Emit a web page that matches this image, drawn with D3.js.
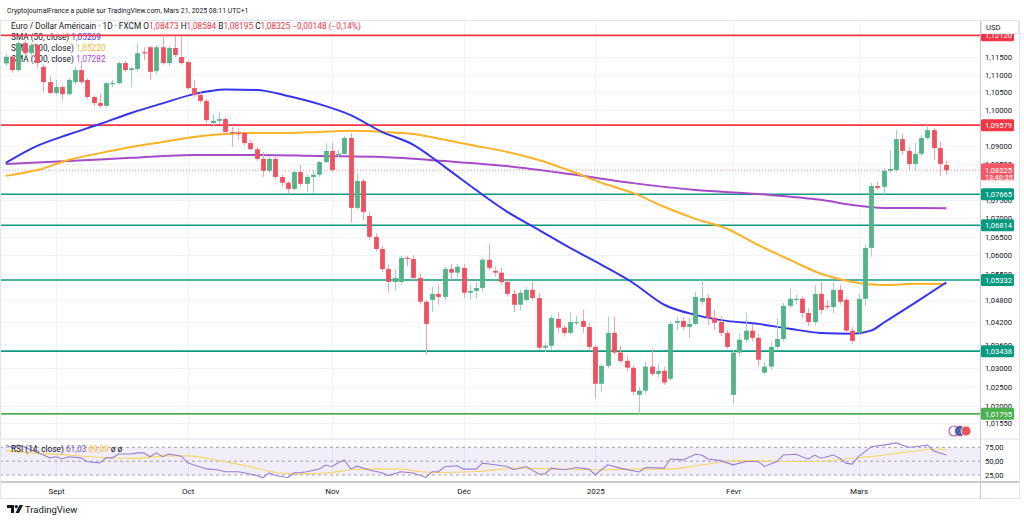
<!DOCTYPE html>
<html><head><meta charset="utf-8">
<script src="https://cdn.jsdelivr.net/npm/d3@7"></script>
<style>
body{margin:0;background:#fff;}
svg{display:block;font-family:Roboto,"DejaVu Sans",sans-serif;}
</style>
</head><body>
<svg id="c" width="1024" height="520"></svg>
<script>
// ---------- DATA ----------
const firstDay = "2024-08-21", lastDay = "2025-03-21";
const closedDays = ["2024-12-25", "2025-01-01"];

const opens = [1.1132,1.1151,1.1113,1.1190,1.1161,1.1184,1.1122,1.1079,1.1048,1.1065,1.1045,1.1079,1.1113,1.1085,1.1037,1.1020,1.1012,1.1073,1.1076,1.1133,1.1113,1.1116,1.1164,1.1178,1.1110,1.1178,1.1133,1.1176,1.1150,
1.1136,1.1062,1.1043,1.1026,1.0964,1.0970,1.0975,1.0939,1.0938,1.0936,1.0908,1.0891,1.0864,1.0831,1.0864,1.0814,1.0798,1.0781,1.0828,1.0795,1.0814,1.0820,1.0855,
1.0886,1.0875,1.0878,1.0922,1.0729,1.0803,1.0707,1.0650,1.0617,1.0563,1.0528,1.0528,1.0593,1.0590,1.0539,1.0475,1.0480,1.0496,1.0488,1.0563,1.0553,
1.0566,1.0499,1.0504,1.0512,1.0588,1.0558,1.0553,1.0528,1.0496,1.0467,1.0480,1.0507,1.0485,1.0353,1.0358,1.0429,1.0406,1.0392,1.0419,1.0424,1.0408,
1.0355,1.0258,1.0305,1.0392,1.0340,1.0318,1.0300,1.0229,1.0240,1.0303,1.0284,1.0292,1.0271,1.0419,1.0424,1.0408,1.0416,1.0475,1.0485,1.0432,1.0421,1.0392,
1.0229,1.0340,1.0374,1.0398,1.0379,1.0287,1.0303,1.0355,1.0376,1.0464,1.0480,1.0483,1.0445,1.0421,1.0496,1.0464,1.0461,1.0507,1.0480,1.0398,
1.0392,1.0483,1.0620,1.0789,1.0787,1.0831,1.0833,1.0919,1.0886,1.0850,1.0878,1.0922,1.0944,1.0894,1.08473];
const highs = [1.1159,1.1156,1.1196,1.1198,1.1190,1.1187,1.1130,1.1096,1.1085,1.1070,1.1090,1.1122,1.1139,1.1090,1.1042,1.1048,1.1079,1.1085,1.1138,1.1140,1.1122,1.1190,1.1178,1.1182,1.1184,1.1213,1.1182,1.1210,1.1210,
1.1140,1.1085,1.1050,1.1031,1.0989,1.0994,1.0980,1.0953,1.0950,1.0940,1.0917,1.0897,1.0883,1.0869,1.0870,1.0820,1.0803,1.0833,1.0847,1.0820,1.0833,1.0858,1.0908,
1.0908,1.0889,1.0928,1.0936,1.0825,1.0808,1.0718,1.0660,1.0625,1.0575,1.0561,1.0598,1.0598,1.0600,1.0550,1.0480,1.0515,1.0521,1.0569,1.0577,1.0577,
1.0577,1.0521,1.0528,1.0593,1.0631,1.0569,1.0566,1.0534,1.0507,1.0507,1.0515,1.0531,1.0499,1.0366,1.0440,1.0448,1.0413,1.0448,1.0437,1.0453,1.0419,
1.0360,1.0310,1.0435,1.0435,1.0358,1.0332,1.0305,1.0250,1.0316,1.0350,1.0310,1.0303,1.0421,1.0435,1.0435,1.0432,1.0502,1.0534,1.0495,1.0453,1.0437,1.0400,
1.0345,1.0392,1.0445,1.0416,1.0390,1.0316,1.0369,1.0432,1.0472,1.0510,1.0494,1.0488,1.0459,1.0520,1.0528,1.0480,1.0528,1.0520,1.0488,1.0408,
1.0496,1.0630,1.0798,1.0800,1.0839,1.0889,1.0944,1.0933,1.0897,1.0908,1.0930,1.0958,1.0950,1.0911,1.08584];
const lows = [1.1125,1.1105,1.1108,1.1153,1.1150,1.1119,1.1051,1.1045,1.1042,1.1028,1.1042,1.1073,1.1073,1.1031,1.1012,1.1006,1.1009,1.1065,1.1072,1.1108,1.1065,1.1110,1.1142,1.1085,1.1100,1.1128,1.1125,1.1150,1.1128,
1.1057,1.1037,1.1020,1.0964,1.0953,1.0961,1.0933,1.0897,1.0917,1.0902,1.0889,1.0858,1.0814,1.0825,1.0808,1.0789,1.0767,1.0776,1.0789,1.0773,1.0770,1.0814,1.0853,
1.0828,1.0869,1.0872,1.0688,1.0724,1.0696,1.0642,1.0612,1.0555,1.0499,1.0507,1.0520,1.0570,1.0534,1.0467,1.0334,1.0448,1.0467,1.0480,1.0534,1.0539,
1.0485,1.0480,1.0485,1.0501,1.0560,1.0542,1.0520,1.0488,1.0448,1.0453,1.0475,1.0480,1.0347,1.0342,1.0347,1.0392,1.0382,1.0387,1.0413,1.0392,1.0347,
1.0219,1.0237,1.0300,1.0334,1.0313,1.0290,1.0229,1.0178,1.0232,1.0278,1.0276,1.0255,1.0266,1.0400,1.0400,1.0379,1.0413,1.0467,1.0413,1.0400,1.0384,1.0350,
1.0206,1.0329,1.0366,1.0369,1.0303,1.0282,1.0295,1.0347,1.0369,1.0459,1.0469,1.0432,1.0410,1.0413,1.0443,1.0453,1.0445,1.0467,1.0392,1.0363,
1.0387,1.0464,1.0596,1.0778,1.0765,1.0825,1.0828,1.0875,1.0833,1.0833,1.0872,1.0917,1.0861,1.0817,1.08195];
const closes = [1.1151,1.1113,1.1190,1.1161,1.1184,1.1133,1.1079,1.1048,1.1065,1.1045,1.1085,1.1113,1.1079,1.1037,1.1020,1.1012,1.1076,1.1077,1.1133,1.1113,1.1118,1.1161,1.1161,1.1108,1.1178,1.1133,1.1176,1.1156,1.1133,
1.1062,1.1043,1.1026,1.0972,1.0970,1.0975,1.0939,1.0936,1.0934,1.0908,1.0891,1.0864,1.0831,1.0864,1.0814,1.0798,1.0781,1.0828,1.0795,1.0814,1.0820,1.0855,1.0886,
1.0833,1.0878,1.0922,1.0729,1.0803,1.0718,1.0650,1.0617,1.0563,1.0528,1.0539,1.0593,1.0590,1.0539,1.0475,1.0416,1.0496,1.0488,1.0563,1.0553,1.0569,
1.0499,1.0504,1.0512,1.0588,1.0566,1.0553,1.0528,1.0496,1.0467,1.0499,1.0507,1.0485,1.0353,1.0358,1.0432,1.0406,1.0392,1.0421,1.0421,1.0408,1.0355,
1.0258,1.0305,1.0392,1.0340,1.0318,1.0300,1.0237,1.0240,1.0303,1.0284,1.0292,1.0261,1.0416,1.0424,1.0408,1.0416,1.0488,1.0485,1.0432,1.0419,1.0392,1.0355,
1.0340,1.0374,1.0398,1.0379,1.0321,1.0303,1.0355,1.0376,1.0464,1.0483,1.0483,1.0445,1.0421,1.0496,1.0453,1.0461,1.0507,1.0475,1.0398,1.0371,
1.0483,1.0620,1.0789,1.0784,1.0831,1.0836,1.0919,1.0886,1.0850,1.0878,1.0922,1.0944,1.0894,1.0850,1.08325];

// moving averages: [bar index, value]
const sma50 = [[0,1.0853],[5,1.0900],[10,1.0932],[15,1.0961],[20,1.0992],[25,1.1019],[30,1.1045],[35,1.1058],[40,1.1057],[45,1.1040],[50,1.1017],[55,1.0986],[60,1.0939],[65,1.0903],[70,1.0842],[75,1.0778],[80,1.0718],[85,1.0669],[90,1.0620],[95,1.0574],[100,1.0526],[105,1.0467],[110,1.0440],[115,1.0424],[120,1.0416],[125,1.0403],[130,1.0392],[135,1.0390],[138,1.0398],[140,1.0419],[145,1.0472],[150,1.05269]];
const sma100 = [[0,1.0817],[5,1.0833],[10,1.0861],[15,1.0880],[20,1.0897],[25,1.0911],[30,1.0925],[35,1.0933],[40,1.0936],[45,1.0936],[50,1.0939],[55,1.0942],[60,1.0939],[65,1.0933],[70,1.0917],[75,1.0900],[80,1.0883],[85,1.0861],[90,1.0831],[95,1.0798],[100,1.0770],[105,1.0732],[110,1.0699],[115,1.0672],[120,1.0628],[125,1.0588],[130,1.0550],[135,1.0528],[140,1.0520],[145,1.0523],[150,1.05220]];
const sma200 = [[0,1.0850],[10,1.0858],[20,1.0867],[30,1.0875],[40,1.0875],[50,1.0872],[60,1.0869],[70,1.0858],[80,1.0844],[90,1.0822],[100,1.0797],[110,1.0778],[120,1.0767],[130,1.0751],[135,1.0737],[140,1.0729],[145,1.0729],[150,1.07282]];

const rsi = [[0,79],[1,75],[2,79],[3,75.5],[4,70],[6,61],[7,56],[8,58],[9,54],[10,58],[12,56],[13,49],[15,47],[16,56],[17,56],[18,63],[20,63],[21,65],[22,65],[23,58],[24,65],[25,58],[26,63],[28,59],[29,47],[30,43],[32,36],[34,34],[35,31],[37,31],[38,29],[40,24],[41,20],[42,29],[43,24],[45,20],[46,29],[47,29],[48,31],[50,36],[51,43],[52,40],[53,47],[54,52],[55,36],[56,41],[58,34],[60,29],[61,24],[63,31],[65,28.6],[67,20.7],[68,31],[69,31],[70,40],[72,41.6],[73,35.7],[75,35.7],[76,46.4],[78,43.4],[80,40.4],[81,34.5],[83,40.4],[85,26.8],[86,26.8],[87,37.5],[89,34.5],[91,38.6],[93,35.7],[94,25.5],[96,43.4],[98,37.5],[101,30.4],[102,38.6],[105,37.5],[106,54],[108,52.3],[110,62.5],[111,61.2],[112,54],[114,51],[116,43.4],[118,49.3],[120,49.3],[121,40.4],[123,49.3],[124,61],[126,62.5],[128,53.6],[129,61],[130,55.4],[132,61],[133,55.4],[134,46.4],[135,44.6],[136,58.2],[138,76],[140,79],[142,83],[144,75],[145,76],[147,79],[148,68.4],[150,61.03]];
const rsiMa = [[0,69],[4,65],[10,61],[15,57],[20,55],[26,59.5],[29,59.5],[34,51],[39,40],[43,29.6],[47,27],[52,29.6],[55,34.5],[58,36],[63,35.7],[66,31.4],[69,29.6],[75,31.4],[82,37.5],[88,35.7],[94,34.5],[101,35.7],[106,35.7],[111,43.4],[115,49.3],[118,51],[124,49.3],[129,49.3],[135,55.4],[139,59.5],[144,67],[149,72],[150,69.69]];

const levelValues = [1.1212, 1.09579, 1.07665, 1.06814, 1.05332, 1.03438, 1.01795];
const levelKinds  = ["res","res","sup","sup","sup","sup","low"];
const priceTicks = [1.115,1.11,1.105,1.10,1.09,1.085,1.075,1.07,1.065,1.06,1.055,1.048,1.042,1.036,1.03,1.025,1.02,1.0155];
const rsiTicks = [75,50,25];
const monthStarts = ["2024-09-02","2024-10-01","2024-11-01","2024-12-02","2025-01-02","2025-02-03","2025-03-03"];
const monthLabels = ["Sept","Oct","Nov","Déc","2025","Févr","Mars"];
const lastPrice = 1.08325, countdown = "13:48:35";

// ---------- BUILD ----------
const dates = [];
for (let d = new Date(firstDay+"T00:00:00Z"); d <= new Date(lastDay+"T00:00:00Z"); d.setUTCDate(d.getUTCDate()+1)) {
  const wd = d.getUTCDay(), s = d.toISOString().slice(0,10);
  if (wd !== 0 && wd !== 6 && !closedDays.includes(s)) dates.push(s);
}
const bars = dates.map((d,i)=>({d, i, o:opens[i], h:highs[i], l:lows[i], c:closes[i]}));

const svg = d3.select("#c");
const axisX = 980, mainTop = 20, mainBot = 438, rsiTop = 440, rsiBot = 481;
const UP = "#53b488", DOWN = "#ef5160", UPW = "#9fd3c3", DOWNW = "#f5a2aa";
const fmt = v => v.toFixed(5).replace(".", ",");

const x = d3.scaleLinear().domain([0, dates.length-1]).range([5.8, 946.3]);
const y = d3.scaleLog().domain([1.0117, 1.1256]).range([mainBot, mainTop]);
const yr = d3.scaleLinear().domain([14.2, 88.2]).range([rsiBot, rsiTop]);

svg.append("rect").attr("width",1024).attr("height",520).attr("fill","#fff");

svg.append("defs").append("clipPath").attr("id","mainClip").append("rect")
  .attr("x",0).attr("y",mainTop).attr("width",axisX).attr("height",mainBot-mainTop);
svg.select("defs").append("clipPath").attr("id","rsiClip").append("rect")
  .attr("x",0).attr("y",rsiTop).attr("width",axisX).attr("height",rsiBot-rsiTop);

// header
svg.append("text").attr("x",7).attr("y",12.5).attr("font-size",6.9).attr("fill","#131722")
  .text("CryptojournalFrance a publié sur TradingView.com, Mars 21, 2025 08:11 UTC+1");

// grid
const grid = svg.append("g");
grid.selectAll("line.h").data(priceTicks).join("line")
  .attr("x1",0).attr("x2",axisX).attr("y1",d=>Math.round(y(d))+0.5).attr("y2",d=>Math.round(y(d))+0.5)
  .attr("stroke","#f0f3fa");
const monthIdx = monthStarts.map(m=>dates.indexOf(m));
grid.selectAll("line.v").data(monthIdx).join("line")
  .attr("x1",d=>Math.round(x(d))+0.5).attr("x2",d=>Math.round(x(d))+0.5)
  .attr("y1",mainTop).attr("y2",rsiBot).attr("stroke","#f0f3fa");

// legends (drawn beneath candles)
const leg = svg.append("g").attr("font-size",8.3);
const t1 = leg.append("text").attr("x",11).attr("y",29);
t1.append("tspan").attr("fill","#131722").text("Euro / Dollar Américain · 1D · FXCM ");
const nLast = closes.length-1;
[["O",opens],["H",highs],["B",lows],["C",closes]].forEach(([k,arr])=>{
  t1.append("tspan").attr("fill","#131722").text(" "+k);
  t1.append("tspan").attr("fill","#f23645").text(fmt(arr[nLast]));
});
const chg = closes[nLast]-opens[nLast];
t1.append("tspan").attr("fill","#f23645").text("  −"+Math.abs(chg).toFixed(5).replace(".",",")+" (−"+Math.abs(chg/opens[nLast]*100).toFixed(2).replace(".",",")+"%)");
const smaLeg = [["SMA (50, close)", sma50, "#3b3bf3"],["SMA (100, close)", sma100, "#f5b42f"],["SMA (200, close)", sma200, "#a64bc9"]];
smaLeg.forEach(([n,arr,col],k)=>{
  const t = leg.append("text").attr("x",11).attr("y",40+k*11);
  t.append("tspan").attr("fill","#131722").text(n+" ");
  t.append("tspan").attr("fill",col).text(" "+fmt(arr[arr.length-1][1]));
});

// main pane
const main = svg.append("g").attr("clip-path","url(#mainClip)");
main.append("line").attr("x1",0).attr("x2",axisX).attr("y1",y(lastPrice)).attr("y2",y(lastPrice))
  .attr("stroke","#f23645").attr("stroke-opacity",0.55).attr("stroke-dasharray","1,2");

const levelColor = {res:"#f23645", sup:"#0c9a80", low:"#4caf50"};
main.selectAll("line.lvl").data(levelValues).join("line")
  .attr("x1",0).attr("x2",axisX).attr("y1",d=>y(d)).attr("y2",d=>y(d))
  .attr("stroke",(d,i)=>levelColor[levelKinds[i]]).attr("stroke-width",1.6);

const line = d3.line().x(d=>x(d[0])).y(d=>y(d[1])).curve(d3.curveMonotoneX);
main.append("path").datum(sma200).attr("d",line).attr("fill","none").attr("stroke","#a64bc9").attr("stroke-width",2);
main.append("path").datum(sma100).attr("d",line).attr("fill","none").attr("stroke","#fbb226").attr("stroke-width",2);
main.append("path").datum(sma50).attr("d",line).attr("fill","none").attr("stroke","#3434ee").attr("stroke-width",2);

// candles
const cg = main.append("g");
cg.selectAll("line.w").data(bars).join("line")
  .attr("x1",d=>Math.round(x(d.i))+0.5).attr("x2",d=>Math.round(x(d.i))+0.5)
  .attr("y1",d=>y(d.h)).attr("y2",d=>y(d.l))
  .attr("stroke",d=>d.c>=d.o?UPW:DOWNW).attr("stroke-width",1);
cg.selectAll("rect.b").data(bars).join("rect")
  .attr("x",d=>Math.round(x(d.i))-1.9).attr("width",4.8)
  .attr("y",d=>y(Math.max(d.o,d.c))).attr("height",d=>Math.max(1.2, Math.abs(y(d.o)-y(d.c))))
  .attr("fill",d=>d.c>=d.o?UP:DOWN);

// currency icons
const ic = svg.append("g");
ic.append("circle").attr("cx",954).attr("cy",431).attr("r",5).attr("fill","#fff").attr("stroke","#b35bd0").attr("stroke-width",1.2);
ic.append("circle").attr("cx",960).attr("cy",431).attr("r",5).attr("fill","#2a57c4").attr("stroke","#e06070").attr("stroke-width",0.8);
ic.append("circle").attr("cx",966).attr("cy",431).attr("r",5).attr("fill","#e8505c").attr("stroke","#fff").attr("stroke-width",0.8);
ic.append("circle").attr("cx",960).attr("cy",431).attr("r",2.4).attr("fill","none").attr("stroke","#f5d142").attr("stroke-width",0.8).attr("stroke-dasharray","0.8,1");

// pane separators
svg.append("line").attr("x1",0).attr("x2",1020).attr("y1",439).attr("y2",439).attr("stroke","#e0e3eb");
svg.append("line").attr("x1",0).attr("x2",1020).attr("y1",rsiBot+1).attr("y2",rsiBot+1).attr("stroke","#c9ccd3").attr("stroke-width",2);

// RSI pane
const rp = svg.append("g").attr("clip-path","url(#rsiClip)");
rp.append("rect").attr("x",0).attr("width",axisX).attr("y",yr(75)).attr("height",yr(25)-yr(75)).attr("fill","#7e57c2").attr("fill-opacity",0.1);
rp.selectAll("line.r").data(rsiTicks).join("line")
  .attr("x1",0).attr("x2",axisX).attr("y1",d=>yr(d)).attr("y2",d=>yr(d))
  .attr("stroke","#9598a1").attr("stroke-dasharray","3,3").attr("stroke-width",0.9);
rp.append("path").datum(rsiMa).attr("d",d3.line().x(d=>x(d[0])).y(d=>yr(d[1])).curve(d3.curveMonotoneX)).attr("fill","none").attr("stroke","#f8d568").attr("stroke-width",1.1);
rp.append("path").datum(rsi).attr("d",d3.line().x(d=>x(d[0])).y(d=>yr(d[1]))).attr("fill","none").attr("stroke","#9a7fd6").attr("stroke-width",1.1);
const rt = svg.append("text").attr("x",11).attr("y",452).attr("font-size",8.3);
rt.append("tspan").attr("fill","#131722").text("RSI (14, close) ");
rt.append("tspan").attr("fill","#7e57c2").text(" "+rsi[rsi.length-1][1].toFixed(2).replace(".",","));
rt.append("tspan").attr("fill","#f2c03a").text("  "+rsiMa[rsiMa.length-1][1].toFixed(2).replace(".",","));
rt.append("tspan").attr("fill","#131722").text("  ø  ø");

// right axis
svg.append("line").attr("x1",axisX+0.5).attr("x2",axisX+0.5).attr("y1",mainTop).attr("y2",498).attr("stroke","#c5c8cf");
const ax = svg.append("g").attr("transform",`translate(${axisX},0)`)
  .call(d3.axisRight(y).tickValues(priceTicks).tickFormat(fmt).tickSize(0).tickPadding(5));
ax.select(".domain").remove();
ax.selectAll("text").attr("font-size",7.6).attr("fill","#131722").attr("font-family","Roboto,sans-serif");
const axr = svg.append("g").attr("transform",`translate(${axisX},0)`)
  .call(d3.axisRight(yr).tickValues(rsiTicks).tickFormat(d=>d.toFixed(2).replace(".",",")).tickSize(0).tickPadding(5));
axr.select(".domain").remove();
axr.selectAll("text").attr("font-size",7.6).attr("fill","#131722").attr("font-family","Roboto,sans-serif");

// price label boxes
const boxColor = {res:"#f23645", sup:"#089981", low:"#4caf50"};
const lb = svg.append("g");
levelValues.forEach((v,i)=>{
  const yy = y(v);
  lb.append("rect").attr("x",axisX+1).attr("y",yy-6).attr("width",33).attr("height",12).attr("rx",1.5).attr("fill",boxColor[levelKinds[i]]);
  lb.append("text").attr("x",axisX+5).attr("y",yy+2.8).attr("font-size",7.6).attr("fill","#fff").text(fmt(v));
});
const ly = y(lastPrice);
lb.append("rect").attr("x",axisX+1).attr("y",ly-7).attr("width",33).attr("height",17).attr("rx",1.5).attr("fill","#f45a66");
lb.append("text").attr("x",axisX+5).attr("y",ly+2.5).attr("font-size",7.6).attr("fill","#fff").text(fmt(lastPrice));
lb.append("text").attr("x",axisX+5).attr("y",ly+9.5).attr("font-size",7.2).attr("fill","#fff").text(countdown);

// USD box
svg.append("rect").attr("x",axisX+1.5).attr("y",20.5).attr("width",37).attr("height",13).attr("fill","#fff").attr("stroke","#e0e3eb");
svg.append("text").attr("x",axisX+6).attr("y",30).attr("font-size",7.6).attr("fill","#131722").text("USD");

// time axis
const xa = svg.append("g").attr("transform",`translate(0,${rsiBot+2})`)
  .call(d3.axisBottom(x).tickValues(monthIdx).tickFormat((d,i)=>monthLabels[i]).tickSize(0).tickPadding(5));
xa.select(".domain").remove();
xa.selectAll("text").attr("font-size",8).attr("fill","#131722").attr("font-family","Roboto,sans-serif");

// outer frame
svg.append("rect").attr("x",0.5).attr("y",20.5).attr("width",1019).attr("height",478).attr("fill","none").attr("stroke","#e0e3eb");

// TradingView logo
const lg = svg.append("g").attr("fill","#131722");
lg.append("path").attr("d","M7,505 h7 v8 h-3 v-5 h-4 z");
lg.append("circle").attr("cx",16.3).attr("cy",506.6).attr("r",1.6);
lg.append("path").attr("d","M19.5,505 h3.5 l-4,8 h-3.5 z");
svg.append("text").attr("x",25).attr("y",513).attr("font-size",9.5).attr("fill","#131722").text("TradingView");
</script>
</body></html>
